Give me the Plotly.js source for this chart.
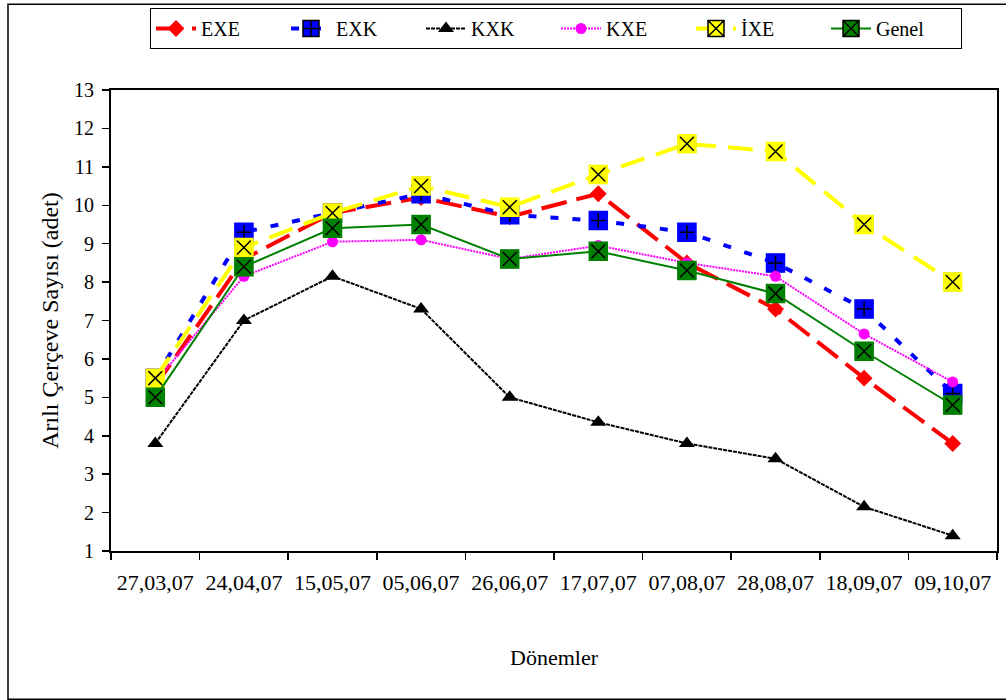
<!DOCTYPE html>
<html>
<head>
<meta charset="utf-8">
<script src="https://cdn.plot.ly/plotly-3.0.1.min.js"></script>
<style>
  html, body { margin: 0; padding: 0; background: #fff; }
  #chart { width: 1006px; height: 700px; }
</style>
</head>
<body>
<div id="chart"></div>
<script>
// Sampling dates (dd,mm,yy)
const periods = ['27,03,07', '24,04,07', '15,05,07', '05,06,07', '26,06,07',
                 '17,07,07', '07,08,07', '28,08,07', '18,09,07', '09,10,07'];

// Mean number of frames covered by bees, per group
const exe   = [5.3, 8.6, 9.8, 10.2, 9.7, 10.3, 8.5, 7.3, 5.5, 3.8];
const exk   = [5.5, 9.3, 9.8, 10.3, 9.75, 9.6, 9.3, 8.5, 7.3, 5.1];
const kxk   = [3.8, 7.0, 8.15, 7.3, 5.0, 4.35, 3.8, 3.4, 2.15, 1.4];
const kxe   = [5.4, 8.15, 9.05, 9.1, 8.6, 8.95, 8.5, 8.15, 6.65, 5.4];
const ixe   = [5.5, 8.9, 9.8, 10.5, 9.95, 10.8, 11.6, 11.4, 9.5, 8.0];
const genel = [5.0, 8.4, 9.4, 9.5, 8.6, 8.8, 8.3, 7.7, 6.2, 4.8];

const yTicks = [1, 2, 3, 4, 5, 6, 7, 8, 9, 10, 11, 12, 13];

const FONT = '"Liberation Serif", "Times New Roman", "DejaVu Serif", serif';

// Page geometry (px) used to place the frame and legend in paper units
const W = 1006, H = 700;
const M = { l: 111, r: 9, t: 89, b: 149 };
const PW = W - M.l - M.r, PH = H - M.t - M.b;
const px = x => (x - M.l) / PW;
const py = y => (H - M.b - y) / PH;

function series(name, y, line, marker) {
  return { type: 'scatter', mode: 'lines+markers', name: name, x: periods, y: y,
           line: line, marker: marker, cliponaxis: false };
}
// Coloured outline drawn over a boxed marker so its frame matches the fill
function frame(y, color, size) {
  return { type: 'scatter', mode: 'markers', x: periods, y: y, showlegend: false,
           hoverinfo: 'skip', cliponaxis: false,
           marker: { symbol: 'square-open', size: size, color: color, line: { width: 2.5, color: color } } };
}

const data = [
  series('EXE', exe, { color: '#FF0000', width: 4, dash: '26px,10px' },
         { symbol: 'diamond', size: 13, color: '#FF0000', line: { width: 0 } }),
  series('EXK', exk, { color: '#0000FF', width: 4, dash: '8px,14px' },
         { symbol: 'square-cross', size: 17, color: '#0000FF', line: { width: 1.5, color: '#000' } }),
  frame(exk, '#0000FF', 17),
  series('KXK', kxk, { color: '#000000', width: 2, dash: '4px,1px' },
         { symbol: 'triangle-up', size: 14, color: '#000000', line: { width: 0 } }),
  series('KXE', kxe, { color: '#FF00FF', width: 2, dash: '2px,1px' },
         { symbol: 'circle', size: 11, color: '#FF00FF', line: { width: 0 } }),
  series('İXE', ixe, { color: '#FFFF00', width: 4, dash: '25px,12px' },
         { symbol: 'square-x', size: 17, color: '#FFFF00', line: { width: 1.5, color: '#000' } }),
  frame(ixe, '#FFFF00', 17),
  series('Genel', genel, { color: '#008000', width: 2 },
         { symbol: 'square-x', size: 17, color: '#008000', line: { width: 1.5, color: '#000' } }),
  frame(genel, '#008000', 17)
];

const layout = {
  width: W, height: H,
  margin: M,
  paper_bgcolor: '#fff', plot_bgcolor: '#fff',
  font: { family: FONT, size: 20, color: '#000' },
  showlegend: true,
  legend: {
    orientation: 'h', x: px(150), y: py(8), xanchor: 'left', yanchor: 'top',
    bordercolor: '#000', borderwidth: 1, bgcolor: '#fff',
    font: { family: FONT, size: 20, color: '#000' },
    entrywidth: 80, itemwidth: 40, tracegroupgap: 0
  },
  xaxis: {
    type: 'category', range: [-0.5, 9.5],
    showline: true, linecolor: '#000', linewidth: 2, mirror: true,
    ticks: 'outside', tickson: 'boundaries', ticklen: 7, tickwidth: 1.5, tickcolor: '#000',
    showgrid: false, zeroline: false, ticklabelstandoff: 11,
    tickfont: { family: FONT, size: 22, color: '#000' },
    title: { text: 'Dönemler', font: { family: FONT, size: 22, color: '#000' }, standoff: 55 },
    automargin: false
  },
  yaxis: {
    range: [1, 13], tickvals: yTicks, ticktext: yTicks.map(String),
    showline: true, linecolor: '#000', linewidth: 2, mirror: true,
    ticks: 'outside', ticklen: 7, tickwidth: 1.5, tickcolor: '#000',
    showgrid: false, zeroline: false, ticklabelstandoff: 4,
    tickfont: { family: FONT, size: 20, color: '#000' },
    title: { text: 'Arılı Çerçeve Sayısı (adet)', font: { family: FONT, size: 24, color: '#000' }, standoff: 9 },
    automargin: false
  },
  shapes: [
    { type: 'rect', xref: 'paper', yref: 'paper', layer: 'below',
      x0: px(8), x1: px(1012), y0: py(699.5), y1: py(3),
      line: { color: '#000', width: 1.5 }, fillcolor: 'rgba(0,0,0,0)' }
  ]
};

Plotly.newPlot('chart', data, layout, { displayModeBar: false, staticPlot: true });
</script>
</body>
</html>
